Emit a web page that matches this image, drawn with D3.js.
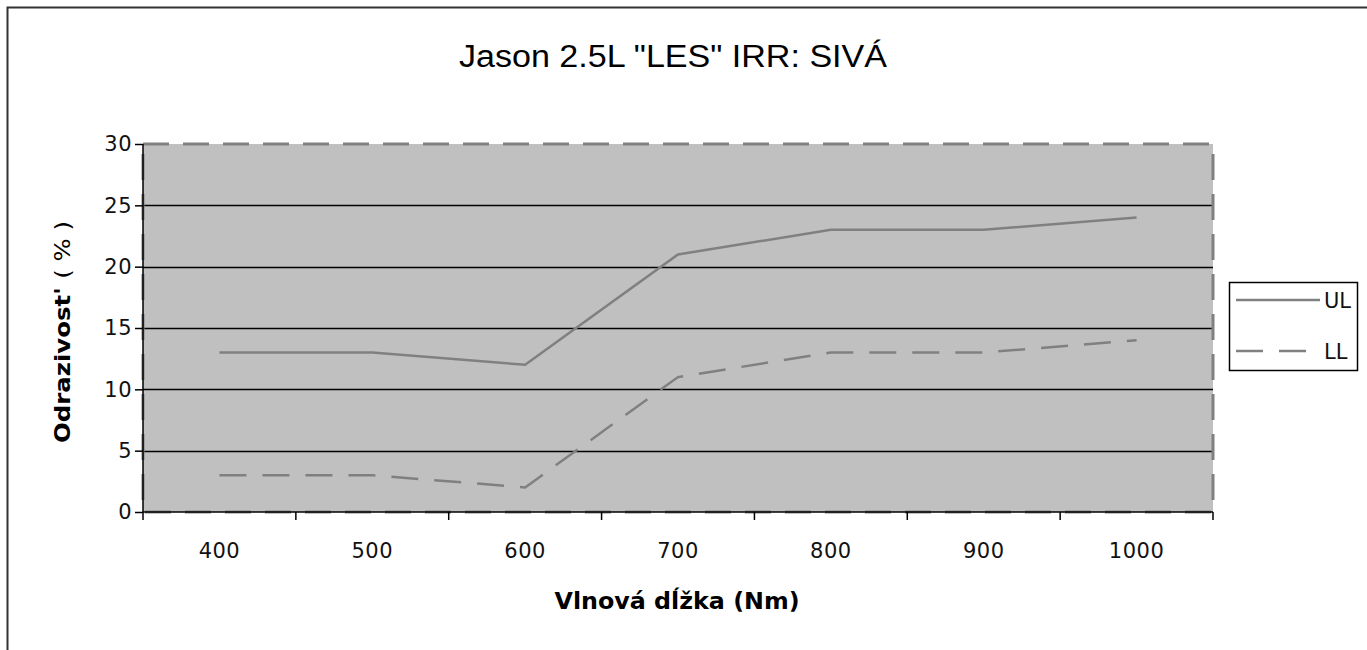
<!DOCTYPE html>
<html><head><meta charset="utf-8">
<script src="https://cdn.jsdelivr.net/npm/d3@7"></script>
<style>body{margin:0;background:#fff}svg{display:block}</style>
</head><body>
<script>
const categories = ["400","500","600","700","800","900","1000"];
const seriesUL = [13,13,12,21,23,23,24];
const seriesLL = [3,3,2,11,13,13,14];
const yTicks = [0,5,10,15,20,25,30];
const seriesNames = ["UL","LL"];

const W=1367,H=650;
const SANS="'DejaVu Sans',Verdana,sans-serif";
const ARIAL="'Liberation Sans',Arial,sans-serif";
const svg=d3.select("body").append("svg").attr("width",W).attr("height",H);
svg.append("rect").attr("x",7.5).attr("y",7.5).attr("width",W+20).attr("height",H+20).attr("fill","#fff").attr("stroke","#333").attr("stroke-width",2);

const L=143,R=1213,T=144,B=512;
const x=d3.scaleBand().domain(categories).range([L,R]);
const y=d3.scaleLinear().domain([0,30]).range([B,T]);

svg.append("rect").attr("x",L).attr("y",T).attr("width",R-L).attr("height",B-T).attr("fill","#c0c0c0");
svg.append("g").selectAll("line").data(yTicks.filter(d=>d>0&&d<30)).join("line")
 .attr("x1",L).attr("x2",R).attr("y1",d=>Math.round(y(d))+0.5).attr("y2",d=>Math.round(y(d))+0.5)
 .attr("stroke","#000").attr("stroke-width",1.3);
svg.append("rect").attr("x",L).attr("y",T).attr("width",R-L).attr("height",B-T).attr("fill","none")
 .attr("stroke","#808080").attr("stroke-width",3).attr("stroke-dasharray","26,14");

const yAx=svg.append("g").attr("transform",`translate(${L},0)`).call(d3.axisLeft(y).tickValues(yTicks).tickSize(8).tickPadding(3));
yAx.select(".domain").attr("stroke","#000").attr("stroke-width",1.5).attr("d",`M-0,${T}V${B}`);
yAx.selectAll(".tick line").attr("stroke","#000").attr("stroke-width",1.5);
yAx.selectAll("text").attr("font-size",21).attr("fill","#111").style("font-family",SANS).attr("letter-spacing",0.5);

const xAx=svg.append("g").attr("transform",`translate(0,${B})`).call(d3.axisBottom(x).tickSize(0).tickPadding(31));
xAx.select(".domain").attr("stroke","#000").attr("stroke-width",1.5).attr("d",`M${L},0H${R}`);
xAx.selectAll("text").attr("font-size",21).attr("fill","#111").style("font-family",SANS).attr("letter-spacing",0.5);
const bounds=categories.map(c=>x(c)).concat([R]);
svg.append("g").selectAll("line").data(bounds).join("line")
 .attr("x1",d=>d).attr("x2",d=>d).attr("y1",B).attr("y2",B+8).attr("stroke","#000").attr("stroke-width",1.5);

const line=d3.line().x((d,i)=>x(categories[i])+x.bandwidth()/2).y(d=>y(d));
svg.append("path").datum(seriesUL).attr("d",line).attr("fill","none").attr("stroke","#808080").attr("stroke-width",2.5);
svg.append("path").datum(seriesLL).attr("d",line).attr("fill","none").attr("stroke","#808080").attr("stroke-width",2.5).attr("stroke-dasharray","27,16");

svg.append("text").attr("x",673).attr("y",67).attr("text-anchor","middle").attr("font-size",31).style("font-family",ARIAL)
 .attr("textLength",428).attr("lengthAdjust","spacingAndGlyphs").attr("fill","#000").text('Jason 2.5L "LES" IRR: SIVÁ');
svg.append("text").attr("x",677).attr("y",609).attr("text-anchor","middle").attr("font-size",23).attr("font-weight","bold").style("font-family",SANS)
 .attr("textLength",245).attr("lengthAdjust","spacingAndGlyphs").attr("fill","#000").text("Vlnová dĺžka (Nm)");
svg.append("text").attr("transform","translate(70,332) rotate(-90)").attr("text-anchor","middle").attr("font-size",22).attr("font-weight","bold").style("font-family",SANS)
 .attr("textLength",222).attr("lengthAdjust","spacingAndGlyphs").attr("fill","#000")
 .html('Odrazivost\' <tspan font-weight="normal">( % )</tspan>');

const lg=svg.append("g");
lg.append("rect").attr("x",1229.5).attr("y",282.5).attr("width",128).attr("height",88).attr("fill","#fff").attr("stroke","#000").attr("stroke-width",1.5);
const dashes=[null,"27,16"];
seriesNames.forEach((n,i)=>{
  const yy=[300,351][i];
  lg.append("line").attr("x1",1236).attr("x2",1320).attr("y1",yy).attr("y2",yy).attr("stroke","#808080").attr("stroke-width",2.5).attr("stroke-dasharray",dashes[i]);
  lg.append("text").attr("x",1324).attr("y",yy+8).attr("font-size",21).style("font-family",SANS).attr("fill","#111").text(n);
});
</script>
</body></html>
